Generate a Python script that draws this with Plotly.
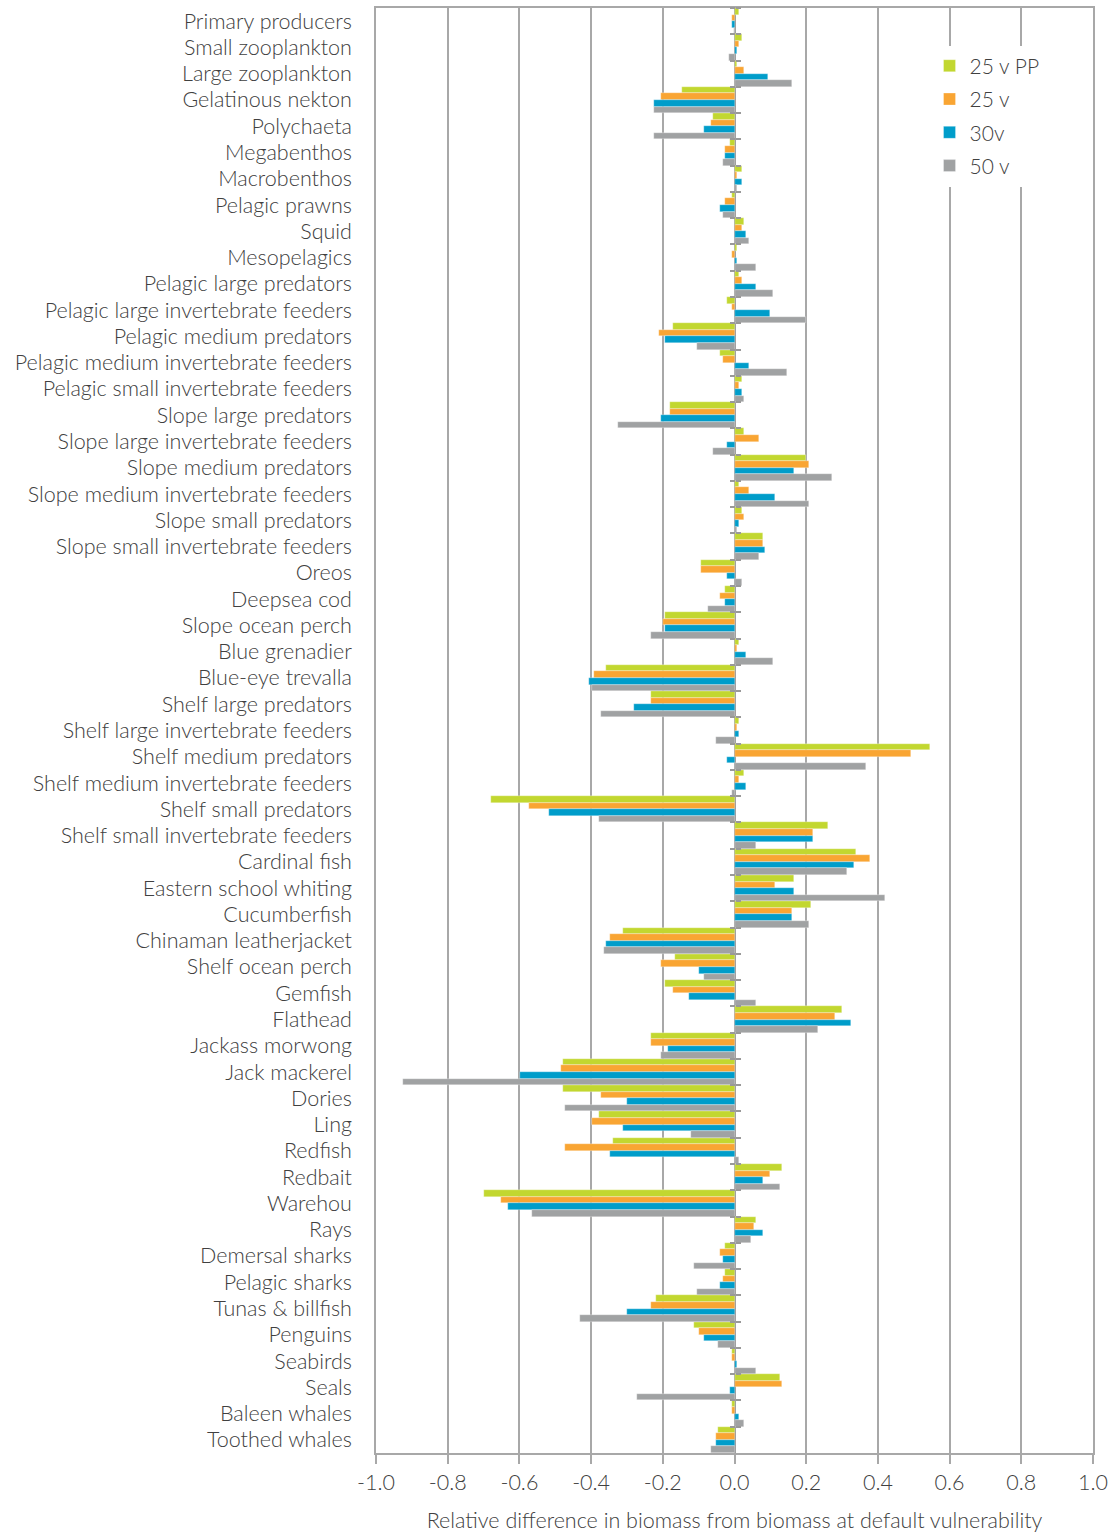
import plotly.graph_objects as go

# Functional groups, listed top to bottom
groups = [
    "Primary producers", "Small zooplankton", "Large zooplankton", "Gelatinous nekton",
    "Polychaeta", "Megabenthos", "Macrobenthos", "Pelagic prawns", "Squid", "Mesopelagics",
    "Pelagic large predators", "Pelagic large invertebrate feeders", "Pelagic medium predators",
    "Pelagic medium invertebrate feeders", "Pelagic small invertebrate feeders",
    "Slope large predators", "Slope large invertebrate feeders", "Slope medium predators",
    "Slope medium invertebrate feeders", "Slope small predators",
    "Slope small invertebrate feeders", "Oreos", "Deepsea cod", "Slope ocean perch",
    "Blue grenadier", "Blue-eye trevalla", "Shelf large predators",
    "Shelf large invertebrate feeders", "Shelf medium predators",
    "Shelf medium invertebrate feeders", "Shelf small predators",
    "Shelf small invertebrate feeders", "Cardinal fish", "Eastern school whiting",
    "Cucumberfish", "Chinaman leatherjacket", "Shelf ocean perch", "Gemfish", "Flathead",
    "Jackass morwong", "Jack mackerel", "Dories", "Ling", "Redfish", "Redbait", "Warehou",
    "Rays", "Demersal sharks", "Pelagic sharks", "Tunas & billfish", "Penguins", "Seabirds",
    "Seals", "Baleen whales", "Toothed whales",
]

v25_pp = [
    0.013, 0.020, 0.007, -0.146, -0.059, -0.013, 0.020, -0.006, 0.027, 0.007,
    0.013, -0.020, -0.172, -0.040, 0.020, -0.180, 0.027, 0.200, 0.013, 0.020,
    0.080, -0.093, -0.026, -0.193, 0.013, -0.359, -0.233, 0.013, 0.546, 0.027,
    -0.678, 0.260, 0.339, 0.167, 0.213, -0.312, -0.166, -0.193, 0.299, -0.233,
    -0.478, -0.478, -0.378, -0.339, 0.133, -0.698, 0.060, -0.026, -0.026, -0.219,
    -0.112, -0.006, 0.127, -0.006, -0.046,
]
v25 = [
    -0.006, 0.013, 0.027, -0.206, -0.066, -0.026, 0.007, -0.026, 0.020, -0.006,
    0.020, -0.006, -0.212, -0.033, 0.013, -0.180, 0.067, 0.207, 0.040, 0.027,
    0.080, -0.093, -0.040, -0.199, 0.007, -0.392, -0.233, 0.007, 0.492, 0.013,
    -0.572, 0.220, 0.379, 0.113, 0.160, -0.346, -0.206, -0.172, 0.280, -0.233,
    -0.485, -0.372, -0.398, -0.472, 0.100, -0.652, 0.053, -0.040, -0.033, -0.233,
    -0.099, -0.006, 0.133, -0.006, -0.053,
]
v30 = [
    -0.006, 0.007, 0.093, -0.225, -0.086, -0.026, 0.020, -0.040, 0.033, 0.007,
    0.060, 0.100, -0.193, 0.040, 0.020, -0.206, -0.020, 0.167, 0.113, 0.013,
    0.086, -0.020, -0.026, -0.193, 0.033, -0.405, -0.279, 0.013, -0.020, 0.033,
    -0.518, 0.220, 0.333, 0.167, 0.160, -0.359, -0.099, -0.126, 0.326, -0.185,
    -0.598, -0.299, -0.312, -0.346, 0.080, -0.631, 0.080, -0.033, -0.040, -0.299,
    -0.086, 0.007, -0.013, 0.013, -0.053,
]
v50 = [
    -0.002, -0.014, 0.160, -0.225, -0.225, -0.033, 0.007, -0.033, 0.040, 0.060,
    0.107, 0.200, -0.106, 0.146, 0.027, -0.325, -0.059, 0.273, 0.207, 0.007,
    0.067, 0.020, -0.073, -0.233, 0.107, -0.398, -0.372, -0.053, 0.366, -0.006,
    -0.378, 0.060, 0.313, 0.420, 0.207, -0.365, -0.086, 0.060, 0.233, -0.206,
    -0.924, -0.472, -0.120, 0.013, 0.127, -0.565, 0.047, -0.112, -0.106, -0.432,
    -0.046, 0.060, -0.272, 0.027, -0.066,
]

series_names = ["25 v PP", "25 v", "30v", "50 v"]
series_values = [v25_pp, v25, v30, v50]
series_colors = ["#C2D730", "#F9A533", "#009DCA", "#A0A2A3"]

x_ticks = [-1.0, -0.8, -0.6, -0.4, -0.2, 0.0, 0.2, 0.4, 0.6, 0.8, 1.0]

FONT = "Lato"
WEIGHT = 300
TEXT = "#404040"
GRID = "#A8A8A8"

fig = go.Figure()
for name, vals, col in zip(series_names, series_values, series_colors):
    fig.add_trace(go.Bar(
        x=vals, y=groups, orientation="h", name=name, legendgroup=name,
        marker=dict(color=col, line=dict(color="rgba(255,255,255,0.6)", width=0.5)),
    ))

# Invisible helpers that carry the tick marks crossing the zero line
for ax in ("y2", "y3"):
    fig.add_trace(go.Scatter(
        x=[0] * len(groups), y=groups, yaxis=ax, mode="markers",
        marker=dict(opacity=0), showlegend=False, hoverinfo="skip",
    ))

cat_range = [len(groups) - 0.5, -0.5]

fig.update_layout(
    width=1110, height=1533,
    margin=dict(l=376, r=17, t=8, b=80),
    paper_bgcolor="white", plot_bgcolor="white",
    barmode="group", bargap=0.0, bargroupgap=0.0,
    font=dict(family=FONT, size=21.5, color=TEXT, weight=WEIGHT),
    showlegend=True,
    legend=dict(
        x=0.772, y=0.974, xanchor="left", yanchor="top",
        bgcolor="white", font=dict(size=21, color=TEXT, weight=WEIGHT),
        traceorder="grouped", tracegroupgap=3,
    ),
    xaxis=dict(
        range=[-1.0, 1.0], tickmode="array", tickvals=x_ticks,
        ticktext=[f"{v:.1f}" for v in x_ticks],
        automargin=False, ticklabeloverflow="allow",
        showgrid=True, gridcolor=GRID, gridwidth=1.5,
        zeroline=True, zerolinecolor="#999999", zerolinewidth=1.5,
        showline=True, linecolor=GRID, linewidth=1.5, mirror=True,
        ticks="outside", ticklen=9, tickcolor=GRID, tickwidth=1.5,
        tickfont=dict(size=21.5, color=TEXT, weight=WEIGHT),
        title=dict(text="Relative difference in biomass from biomass at default vulnerability",
                   font=dict(size=21.5, color=TEXT, weight=WEIGHT), standoff=20),
    ),
    yaxis=dict(
        type="category", categoryorder="array", categoryarray=groups,
        range=cat_range, showgrid=False, zeroline=False, automargin=False,
        showline=True, linecolor=GRID, linewidth=1.5, mirror=True,
        ticks="", ticklabelstandoff=18,
        tickfont=dict(size=21.5, color=TEXT, weight=WEIGHT),
    ),
    yaxis2=dict(
        type="category", categoryorder="array", categoryarray=groups,
        range=cat_range, overlaying="y", anchor="free", position=0.5,
        side="left", showline=False, showgrid=False, zeroline=False,
        showticklabels=False, ticks="outside", tickson="boundaries",
        ticklen=5, tickwidth=1.5, tickcolor="#999999",
    ),
    yaxis3=dict(
        type="category", categoryorder="array", categoryarray=groups,
        range=cat_range, overlaying="y", anchor="free", position=0.5,
        side="right", showline=False, showgrid=False, zeroline=False,
        showticklabels=False, ticks="outside", tickson="boundaries",
        ticklen=5, tickwidth=1.5, tickcolor="#999999",
    ),
)

fig.write_html("out.html")
